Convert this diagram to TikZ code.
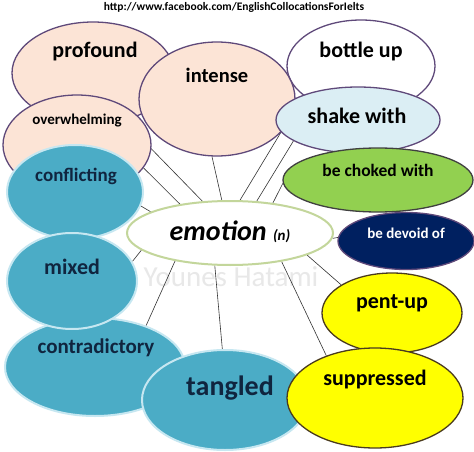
\documentclass[tikz,border=0pt]{standalone}
\usepackage{fontspec}
\setmainfont{Carlito}
\usetikzlibrary{shapes.geometric,backgrounds}

\definecolor{peach}{HTML}{FCE4D6}
\definecolor{plum}{HTML}{5F497A}
\definecolor{paleblue}{HTML}{DBEEF4}
\definecolor{aqua}{HTML}{4BACC6}
\definecolor{aquarim}{HTML}{C6E7F1}
\definecolor{leaf}{HTML}{92D050}
\definecolor{navyblue}{HTML}{002060}
\definecolor{lemon}{HTML}{FFFF00}
\definecolor{bark}{HTML}{4A3B1E}
\definecolor{olivebrim}{HTML}{C3D69B}
\definecolor{ink}{HTML}{10253F}

\newcommand{\wordsize}[1]{\fontsize{#1}{#1}\selectfont}

\tikzset{
    bubble/.style={ellipse, draw=plum, line width=1.3pt, inner sep=0pt},
    peachy/.style={bubble, fill=peach},
    aquay/.style={bubble, fill=aqua, draw=aquarim, line width=2pt},
    sunny/.style={bubble, fill=lemon, draw=bark},
    word/.style={inner sep=0pt, font=\bfseries},
    spoke/.style={draw=black!80, line width=0.6pt},
}

\begin{document}
\begin{tikzpicture}[x=1pt, y=-1pt]
    \useasboundingbox (0,0) rectangle (474,452);

    % upper left, peach bubbles
    \node[peachy, minimum width=162pt, minimum height=102pt] (profound) at (93,73) {};
    \node[word, font=\wordsize{22}\bfseries] (profound text) at (95,52) {profound};
    \node[bubble, fill=white, minimum width=148pt, minimum height=92pt] (bottle) at (361,66) {};
    \node[word, font=\wordsize{22}\bfseries] (bottle text) at (361,52) {bottle up};
    \node[peachy, minimum width=156pt, minimum height=114pt] (intense) at (217,99) {};
    \node[word, font=\wordsize{20.5}\bfseries] (intense text) at (217,75) {intense};
    \node[peachy, minimum width=148pt, minimum height=100pt] (overwhelming) at (77,145) {};
    \node[word, font=\wordsize{15}\bfseries] (overwhelming text) at (77,121) {overwhelming};

    % right side
    \node[bubble, fill=paleblue, minimum width=164pt, minimum height=66pt] (shake) at (358,120) {};
    \node[word, font=\wordsize{22}\bfseries] (shake text) at (357,116) {shake with};
    \node[bubble, fill=leaf, draw=black!75, minimum width=190pt, minimum height=64pt] (choked) at (378,180) {};
    \node[word, font=\wordsize{17.5}\bfseries] (choked text) at (378,170) {be choked with};
    \node[bubble, fill=navyblue, minimum width=136pt, minimum height=57pt] (devoid) at (406,241) {};
    \node[word, font=\wordsize{15}\bfseries, text=white] (devoid text) at (406,233) {be devoid of};

    % left side, aqua bubbles
    \node[aquay, minimum width=136pt, minimum height=94pt] (conflicting) at (75,192) {};
    \node[word, font=\wordsize{19}\bfseries, text=ink] (conflicting text) at (76,176) {conflicting};
    \node[aquay, minimum width=180pt, minimum height=98pt] (contradictory) at (95,367) {};
    \node[word, font=\wordsize{21}\bfseries, text=ink] (contradictory text) at (96,348) {contradictory};
    \node[aquay, minimum width=130pt, minimum height=96pt] (mixed) at (72,281) {};
    \node[word, font=\wordsize{22}\bfseries, text=ink] (mixed text) at (72,267) {mixed};
    \node[aquay, minimum width=166pt, minimum height=100pt] (tangled) at (225,400) {};
    \node[word, font=\wordsize{28}\bfseries, text=ink] (tangled text) at (230,388) {tangled};

    % lower right, yellow bubbles
    \node[sunny, minimum width=140pt, minimum height=80pt] (pentup) at (392,313) {};
    \node[word, font=\wordsize{22}\bfseries] (pentup text) at (392,303) {pent-up};
    \node[sunny, minimum width=176pt, minimum height=100pt] (suppressed) at (375,398) {};
    \node[word, font=\wordsize{22}\bfseries] (suppressed text) at (375,380) {suppressed};

    % the hub
    \node[bubble, fill=white, draw=olivebrim, line width=2pt, minimum width=206pt, minimum height=64pt] (emotion) at (230,233) {};
    \node[word, font=\wordsize{28}\bfseries\itshape] (emotion text) at (230,232) {emotion {\wordsize{15}(n)}};

    \node[word, font=\wordsize{11.5}\bfseries] (url) at (234,7) {http://www.facebook.com/EnglishCollocationsForIelts};

    \begin{pgfonlayer}{background}
        \fill[white] (0,0) rectangle (474,452);
        \node[inner sep=0pt, font=\wordsize{29}, text=black!9] (mark) at (231,277) {Younes Hatami};
        \draw[spoke] (emotion.131) -- (profound.-57);
        \draw[spoke] (emotion.150) -- (overwhelming.-19);
        \draw[spoke] (emotion.165) -- (conflicting.-12);
        \draw[spoke] (emotion.104) -- (intense.-95);
        \draw[spoke] (emotion.73) -- (bottle.207);
        \draw[spoke] (emotion.50) -- (shake.198);
        \draw[spoke] (emotion.35) -- (choked.182);
        \draw[spoke] (emotion.357) -- (devoid.177);
        \draw[spoke] (emotion.191) -- (mixed.18);
        \draw[spoke] (emotion.207) -- (contradictory.39);
        \draw[spoke] (emotion.245) -- (tangled.93);
        \draw[spoke] (emotion.331) -- (suppressed.139);
        \draw[spoke] (emotion.344) -- (pentup.151);
    \end{pgfonlayer}
\end{tikzpicture}
\end{document}
